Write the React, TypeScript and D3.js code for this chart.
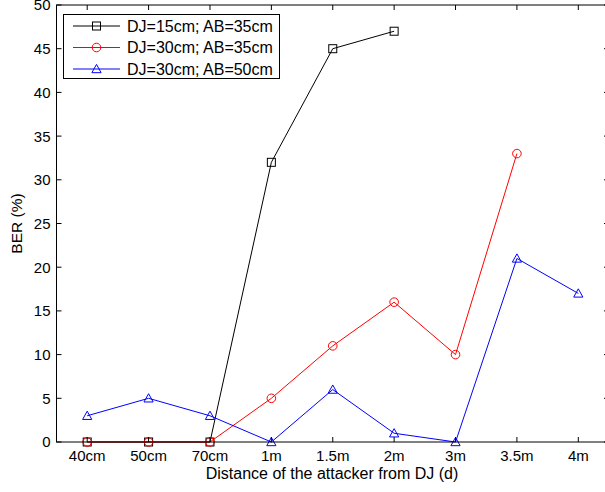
import React from "react";
import * as d3 from "d3";

const categories = ["40cm", "50cm", "70cm", "1m", "1.5m", "2m", "3m", "3.5m", "4m"];
const yTicks = [0, 5, 10, 15, 20, 25, 30, 35, 40, 45, 50];
const seriesNames = ["DJ=15cm; AB=35cm", "DJ=30cm; AB=35cm", "DJ=30cm; AB=50cm"];
const seriesColors = ["#000000", "#ff0000", "#0000ff"];
const seriesMarkers = ["square", "circle", "triangle"];
const black = [0, 0, 0, 32, 45, 47];
const red = [0, 0, 0, 5, 11, 16, 10, 33];
const blue = [3, 5, 3, 0, 6, 1, 0, 21, 17];
const allSeries = [black, red, blue];

const W = 605, H = 492;
const left = 56.5, right = 609, top = 5, bottom = 442;
const font = "'Liberation Sans', Arial, Helvetica, sans-serif";

function Marker({ type, x, y, color }: { type: string; x: number; y: number; color: string }) {
  if (type === "square") return <rect x={x - 4} y={y - 4} width={8} height={8} fill="none" stroke={color} strokeWidth={1} />;
  if (type === "circle") return <circle cx={x} cy={y} r={4.3} fill="none" stroke={color} strokeWidth={1} />;
  const s = 4.6;
  return <path d={`M${x},${y - s}L${x + s},${y + s * 0.8}L${x - s},${y + s * 0.8}Z`} fill="none" stroke={color} strokeWidth={1} />;
}

export default function App() {
  const x = d3.scaleLinear().domain([0.5, 9.5]).range([left, right]);
  const y = d3.scaleLinear().domain([0, 50]).range([bottom, top]);
  const line = d3.line<number>().x((_, i) => x(i + 1)).y((d) => y(d));
  return (
    <svg width={W} height={H} style={{ position: "absolute", left: 0, top: 0, background: "#fff" }} fontFamily={font}>
      <rect x={0} y={0} width={W} height={H} fill="#fff" />
      {allSeries.map((s, k) => (
        <g key={k}>
          <path d={line(s) || ""} fill="none" stroke={seriesColors[k]} strokeWidth={1} />
          {s.map((v, i) => (
            <Marker key={i} type={seriesMarkers[k]} x={x(i + 1)} y={y(v)} color={seriesColors[k]} />
          ))}
        </g>
      ))}
      <rect x={left} y={top} width={right - left} height={bottom - top} fill="none" stroke="#000" strokeWidth={1} />
      {yTicks.map((t) => (
        <g key={t}>
          <line x1={left} x2={left + 5} y1={y(t)} y2={y(t)} stroke="#000" />
          <line x1={right} x2={right - 5} y1={y(t)} y2={y(t)} stroke="#000" />
          <text x={left - 6} y={y(t)} dy="0.36em" textAnchor="end" fontSize={15}>{t}</text>
        </g>
      ))}
      {categories.map((c, i) => (
        <g key={c}>
          <line x1={x(i + 1)} x2={x(i + 1)} y1={bottom} y2={bottom - 5} stroke="#000" />
          <line x1={x(i + 1)} x2={x(i + 1)} y1={top} y2={top + 5} stroke="#000" />
          <text x={x(i + 1)} y={461} textAnchor="middle" fontSize={15}>{c}</text>
        </g>
      ))}
      <text x={332} y={479} textAnchor="middle" fontSize={16}>Distance of the attacker from DJ (d)</text>
      <text transform={`translate(22,${(top + bottom) / 2}) rotate(-90)`} textAnchor="middle" fontSize={15.5}>BER (%)</text>
      <g>
        <rect x={63.5} y={14.5} width={216} height={64} fill="#fff" stroke="#000" strokeWidth={1} />
        {seriesNames.map((n, k) => {
          const yy = 26 + k * 21.5;
          return (
            <g key={n}>
              <line x1={73} x2={120} y1={yy} y2={yy} stroke={seriesColors[k]} />
              <Marker type={seriesMarkers[k]} x={96.5} y={yy} color={seriesColors[k]} />
              <text x={127} y={yy} dy="0.36em" fontSize={16}>{n}</text>
            </g>
          );
        })}
      </g>
    </svg>
  );
}
